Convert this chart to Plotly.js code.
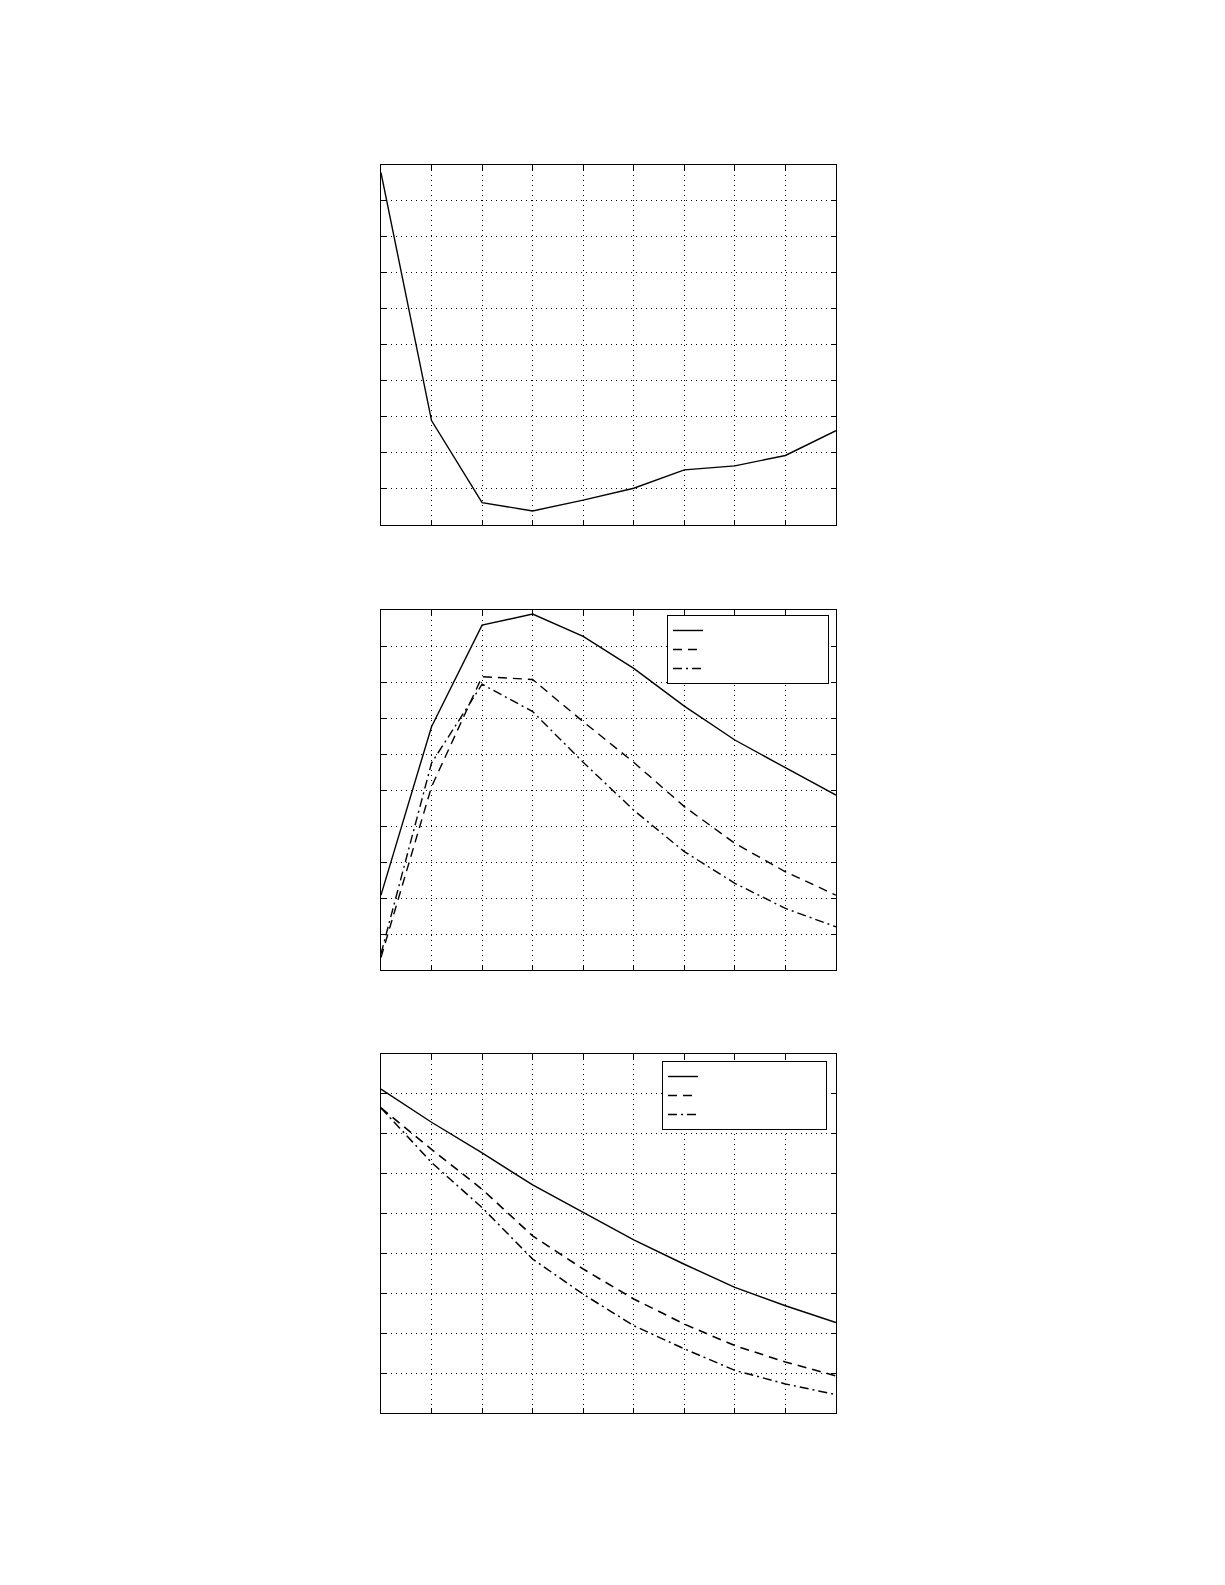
<!DOCTYPE html>
<html>
<head>
<meta charset="utf-8">
<script src="https://cdn.plot.ly/plotly-3.0.1.min.js"></script>
<style>
  body { margin: 0; background: #fff; }
  #chart { width: 1225px; height: 1585px; }
</style>
</head>
<body>
<div id="chart"></div>
<script>
// shared x positions
var steps = [0, 1, 2, 3, 4, 5, 6, 7, 8, 9];

// top panel
var topCurve = [9.79, 2.90, 0.62, 0.39, 0.69, 1.02, 1.53, 1.64, 1.93, 2.62];

// middle panel
var midSolid = [2.08, 6.76, 9.58, 9.89, 9.27, 8.38, 7.33, 6.39, 5.62, 4.86];
var midDashed = [0.35, 5.09, 8.15, 8.07, 6.90, 5.77, 4.54, 3.52, 2.73, 2.08];
var midDashDot = [0.45, 5.75, 7.94, 7.18, 5.77, 4.44, 3.29, 2.41, 1.71, 1.20];

// bottom panel
var lowSolid = [8.12, 7.29, 6.52, 5.72, 5.03, 4.34, 3.73, 3.15, 2.69, 2.27];
var lowDashed = [7.65, 6.61, 5.61, 4.44, 3.61, 2.86, 2.23, 1.69, 1.28, 0.93];
var lowDashDot = [7.65, 6.28, 5.15, 3.86, 2.98, 2.19, 1.61, 1.07, 0.73, 0.46];

// legend labels are blank in the picture, padded so the box keeps its width
var blankMid = '\u00a0'.repeat(30);
var blankLow = '\u00a0'.repeat(37);

var black = '#000';

function lineTrace(y, dash, xa, ya, legend, name, show, width) {
  return {
    x: steps,
    y: y,
    type: 'scatter',
    mode: 'lines',
    xaxis: xa,
    yaxis: ya,
    legend: legend,
    name: name,
    showlegend: show,
    line: { color: black, width: width || 1.4, dash: dash },
    hoverinfo: 'skip'
  };
}

var dashed = '9px,6px';
var dashDot = '9px,4px,2px,4px';

var data = [
  lineTrace(topCurve, 'solid', 'x', 'y', 'legend', blankMid, false),

  lineTrace(midSolid, 'solid', 'x2', 'y2', 'legend', blankMid, true),
  lineTrace(midDashed, dashed, 'x2', 'y2', 'legend', blankMid, true),
  lineTrace(midDashDot, dashDot, 'x2', 'y2', 'legend', blankMid, true),

  lineTrace(lowSolid, 'solid', 'x3', 'y3', 'legend2', blankLow, true),
  lineTrace(lowDashed, dashed, 'x3', 'y3', 'legend2', blankLow, true, 1.6),
  lineTrace(lowDashDot, dashDot, 'x3', 'y3', 'legend2', blankLow, true, 1.5)
];

function xAxis(anchor) {
  return {
    domain: [0.311, 0.6824],
    anchor: anchor,
    range: [0, 9],
    dtick: 1,
    showticklabels: false,
    ticks: 'inside',
    ticklen: 5,
    tickcolor: black,
    showline: true,
    linecolor: black,
    linewidth: 1,
    mirror: 'ticks',
    showgrid: true,
    gridcolor: black,
    gridwidth: 1,
    griddash: '1px,4px',
    zeroline: false,
    fixedrange: true
  };
}

function yAxis(anchor, domain, top) {
  var ax = xAxis(anchor);
  ax.domain = domain;
  ax.range = [0, top];
  return ax;
}

var legendBox = {
  xref: 'paper',
  yref: 'paper',
  xanchor: 'left',
  yanchor: 'top',
  bgcolor: '#fff',
  bordercolor: black,
  borderwidth: 1,
  tracegroupgap: 0,
  font: { family: 'DejaVu Sans', size: 11, color: black }
};

var layout = {
  width: 1225,
  height: 1585,
  margin: { t: 0, b: 0, l: 0, r: 0 },
  paper_bgcolor: '#fff',
  plot_bgcolor: '#fff',
  showlegend: true,

  xaxis: xAxis('y'),
  yaxis: yAxis('x', [0.6688, 0.8959], 10),

  xaxis2: xAxis('y2'),
  yaxis2: yAxis('x2', [0.3880, 0.6151], 10),

  xaxis3: xAxis('y3'),
  yaxis3: yAxis('x3', [0.1085, 0.3350], 9),

  legend: Object.assign({}, legendBox, {
    x: 0.5445,
    y: 0.6120,
    font: { family: 'DejaVu Sans', size: 12, color: black }
  }),
  legend2: Object.assign({}, legendBox, {
    x: 0.5404,
    y: 0.3306,
    font: { family: 'DejaVu Sans', size: 10, color: black }
  })
};

var config = {
  displayModeBar: false,
  staticPlot: true
};

Plotly.newPlot('chart', data, layout, config);
</script>
</body>
</html>
